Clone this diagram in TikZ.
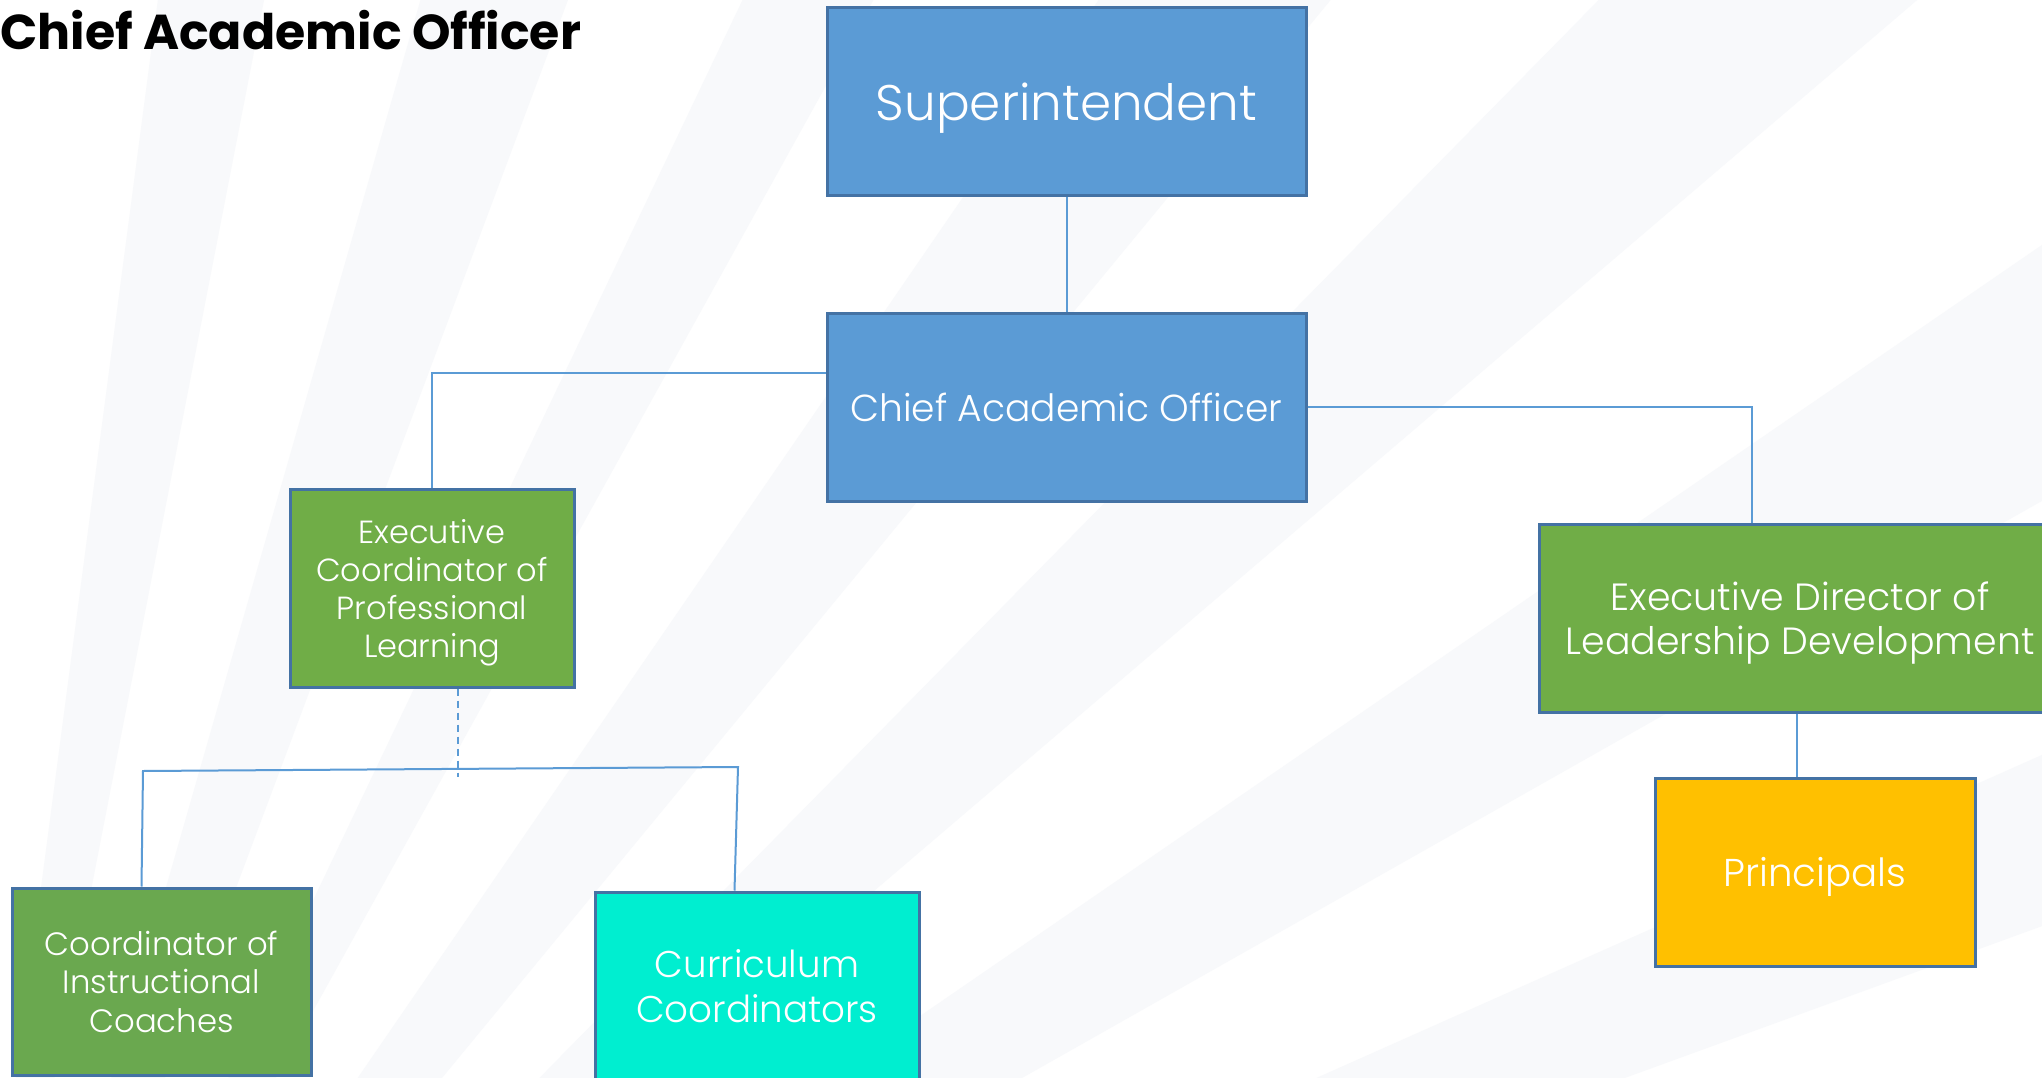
\documentclass[tikz,border=0pt]{standalone}
\usepackage{fontspec}
\setmainfont{Poppins Light}
\newfontfamily\titlefont{Poppins}
\usetikzlibrary{calc}
\definecolor{raygray}{RGB}{248,249,251}
\definecolor{boxblue}{RGB}{91,155,213}
\definecolor{edgeblue}{RGB}{68,114,164}
\definecolor{linkblue}{RGB}{91,155,213}
\definecolor{boxgreen}{RGB}{112,173,71}
\definecolor{boxgreentwo}{RGB}{106,168,79}
\definecolor{boxcyan}{RGB}{0,238,208}
\definecolor{boxgold}{RGB}{255,192,0}
\tikzset{
  orgbox/.style={rectangle, draw=edgeblue, line width=3pt, text=white, align=center, inner sep=0pt, text depth=0pt},
  link/.style={draw=linkblue, line width=2pt},
  raystripe/.style={fill=raygray, draw=none}
}
\begin{document}
\begin{tikzpicture}[x=1pt,y=-1pt]
\useasboundingbox (0,0) rectangle (2042,1078);
\fill[white] (0,0) rectangle (2042,1078);
\begin{scope}
\clip (0,0) rectangle (2042,1078);
\foreach \a/\b in {79/82.5, 69.5/74, 61/64.5, 50.5/55.5, 40.5/45.5, 29.5/34.5, 20/24, 10/14}{
  \fill[raystripe] (-65,1693) -- ($(-65,1693)+(-\a:3200)$) -- ($(-65,1693)+(-\b:3200)$) -- cycle;
}

\node[anchor=base west, inner sep=0pt, font=\titlefont\bfseries\fontsize{49}{49}\selectfont] (title) at (0,50) {Chief Academic Officer};

\node[orgbox, fill=boxblue, minimum width=479, minimum height=188, font=\fontsize{50}{50}\selectfont] (sup) at (1066.5,102) {Superintendent};
\node[orgbox, fill=boxblue, minimum width=479, minimum height=188, font=\fontsize{37.6}{44}\selectfont] (cao) at (1066.5,407) {Chief Academic Officer};
\node[orgbox, fill=boxgreen, minimum width=284, minimum height=198, font=\fontsize{32}{38}\selectfont] (ecpl) at (432,588) {Executive\\Coordinator of\\Professional\\Learning};
\node[orgbox, fill=boxgreentwo, minimum width=299, minimum height=187, font=\fontsize{32.3}{38.5}\selectfont] (cic) at (161.5,981.5) {Coordinator of\\Instructional\\Coaches};
\node[orgbox, fill=boxcyan, minimum width=324, minimum height=188, font=\fontsize{37.2}{45}\selectfont] (cc) at (757,986) {Curriculum\\Coordinators};
\node[orgbox, fill=boxgreen, minimum width=522, minimum height=188, font=\fontsize{37.9}{44}\selectfont] (edld) at (1800,618) {Executive Director of\\Leadership Development};
\node[orgbox, fill=boxgold, minimum width=320, minimum height=188, font=\fontsize{38.8}{44}\selectfont] (prin) at (1815,872) {Principals};

\coordinate (busL) at (143,771);
\coordinate (busR) at (738,767);

\draw[link] (sup.south) -- (cao.north);
\draw[link] ($(cao.north west)+(0,61)$) -| (ecpl.north);
\draw[link] (cao.east) -| ($(edld.north west)+(214,0)$);
\draw[link] ($(edld.south west)+(259,0)$) -- ($(prin.north west)+(143,0)$);
\draw[link, dash pattern=on 7pt off 5pt] ($(ecpl.south west)+(169,0)$) -- ++(0,88);
\draw[link] ($(cic.north west)+(131,0)$) -- (busL) -- (busR) -- ($(cc.north west)+(141,0)$);
\end{scope}
\end{tikzpicture}
\end{document}
